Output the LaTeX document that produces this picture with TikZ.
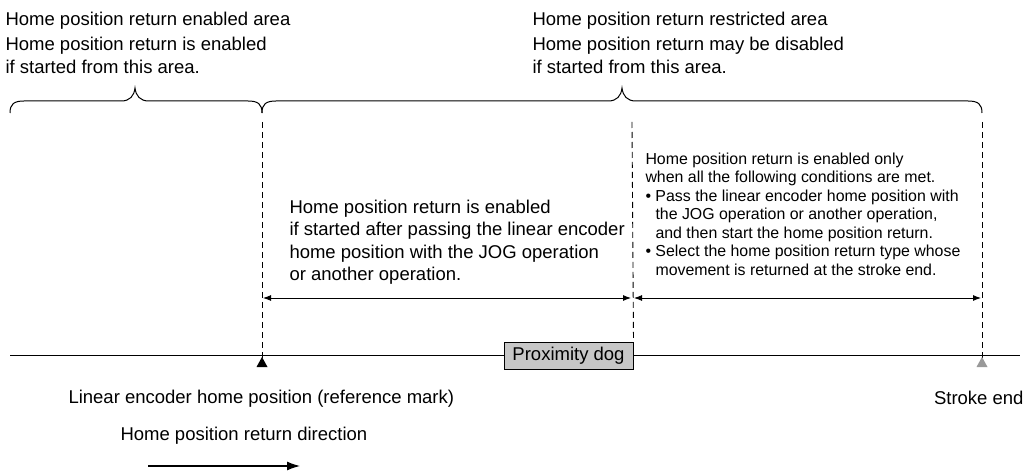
\documentclass[tikz,border=0pt]{standalone}
\usepackage{fontspec}
\setmainfont{Liberation Sans}
\usetikzlibrary{arrows.meta}
\begin{document}
\begin{tikzpicture}[x=1pt,y=-1pt,line width=1pt,
    bigtext/.style={anchor=base west,inner sep=0pt,align=left,
      font=\fontsize{18.5}{22.5}\selectfont},
    smalltext/.style={anchor=base west,inner sep=0pt,align=left,
      font=\fontsize{15.9}{18.6}\selectfont},
    guide/.style={dash pattern=on 6pt off 4pt,line width=0.9pt},
    span/.style={{Latex[length=8pt,width=6pt]}-{Latex[length=8pt,width=6pt]},line width=0.9pt},
    dogbox/.style={draw,fill=black!22,inner sep=0pt,minimum width=129pt,minimum height=27pt,
      font=\fontsize{18.5}{22.5}\selectfont}]
    \useasboundingbox (0,0) rectangle (1026,473);

    % headers above the braces (base of a multi-line node = its last line)
    \node[bigtext] (enabledhead) at (5,26) {Home position return enabled area};
    \node[bigtext] (enabledtext) at (5,73.5) {Home position return is enabled\\if started from this area.};
    \node[bigtext] (restricthead) at (532,26) {Home position return restricted area};
    \node[bigtext] (restricttext) at (532,73.5) {Home position return may be disabled\\if started from this area.};

    % braces
    \draw (10,113) .. controls (10,104) and (14,101) .. (24,101) -- (121,101)
      .. controls (130,101) and (134,96) .. (135,88)
      .. controls (136,96) and (140,101) .. (149,101) -- (248,101)
      .. controls (258,101) and (262,104) .. (262,113);
    \draw (262,113) .. controls (262,104) and (266,101) .. (276,101) -- (608,101)
      .. controls (617,101) and (621,96) .. (622,88)
      .. controls (623,96) and (627,101) .. (636,101) -- (968,101)
      .. controls (978,101) and (982,104) .. (982,113);

    % positions on the axis
    \coordinate (refmark) at (262,355);
    \coordinate (strokeend) at (982,355);
    \coordinate (reftop) at (262,122);
    \coordinate (dogtop) at (632,122);
    \coordinate (endtop) at (982,122);
    \coordinate (axisleft) at (10,355);
    \coordinate (axisright) at (1020,355);

    \draw (axisleft) -- (axisright);
    \node[dogbox] (dog) at (568.5,355.5) {Proximity dog};

    \draw[guide] (reftop) -- ([yshift=-3pt]refmark);
    \draw[guide] (dogtop) -- (dog.north east);
    \draw[guide] (endtop) -- ([yshift=-3pt]strokeend);

    \fill (262,357) -- (256.5,367) -- (267.5,367) -- cycle;
    \fill[black!40] (982,357) -- (976.5,367) -- (987.5,367) -- cycle;

    % ranges
    \coordinate (midleft) at (263,298);
    \coordinate (midcentre) at (632,298);
    \coordinate (midright) at (981,298);
    \draw[span] (midleft) -- ([xshift=-1pt]midcentre);
    \draw[span] ([xshift=2pt]midcentre) -- (midright);

    \node[bigtext] (aftertext) at (289,280.5) {Home position return is enabled\\if started after passing the linear encoder\\home position with the JOG operation\\or another operation.};
    \node[smalltext] (condtext) at (645,275.6) {Home position return is enabled only\\when all the following conditions are met.\\\makebox[10pt][l]{•}Pass the linear encoder home position with\\\hspace*{10pt}the JOG operation or another operation,\\\hspace*{10pt}and then start the home position return.\\\makebox[10pt][l]{•}Select the home position return type whose\\\hspace*{10pt}movement is returned at the stroke end.};

    % labels below the axis
    \node[bigtext] (reflabel) at (68,403) {Linear encoder home position (reference mark)};
    \node[bigtext,anchor=base east] (endlabel) at (1024,404) {Stroke end};

    \node[bigtext] (dirlabel) at (120,440) {Home position return direction};
    \coordinate (dirstart) at (148,466);
    \coordinate (dirend) at (300,466);
    \draw[-{Latex[length=13pt,width=9pt]},line width=1.2pt] (dirstart) -- (dirend);
\end{tikzpicture}
\end{document}
